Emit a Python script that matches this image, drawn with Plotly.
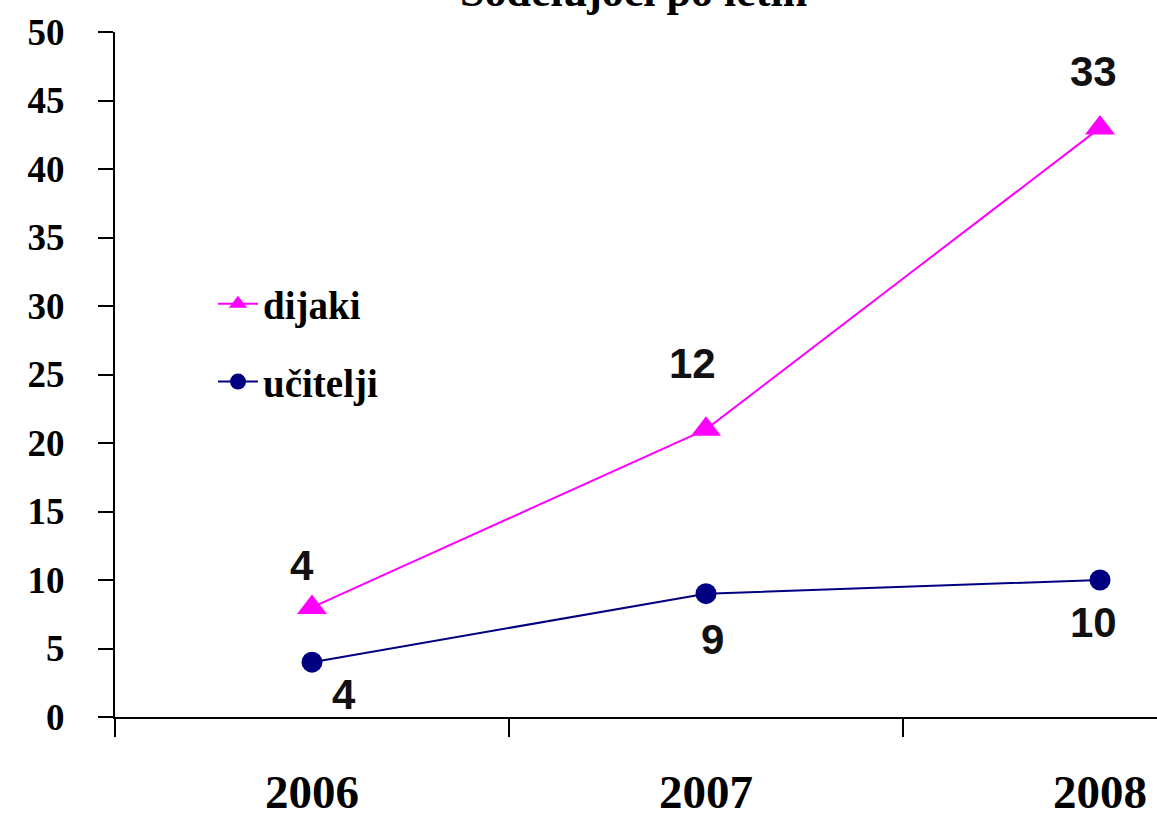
import plotly.graph_objects as go
import numpy as np

years = ["2006", "2007", "2008"]
ucitelji = [4, 9, 10]
dijaki = [4, 12, 33]
y_ticks = [0, 5, 10, 15, 20, 25, 30, 35, 40, 45, 50]
title_text = "Sodelujoči po letih"

# stacked line chart: dijaki stacked on top of učitelji
dijaki_stacked = list(np.array(ucitelji) + np.array(dijaki))

fig = go.Figure()
fig.add_trace(go.Scatter(
    x=years, y=dijaki_stacked, name="dijaki", mode="lines+markers",
    line=dict(color="#FF00FF", width=2),
    marker=dict(symbol="triangle-up", size=26, color="#FF00FF"),
    legendgroup="a", hoverinfo="skip"))
fig.add_trace(go.Scatter(
    x=years, y=ucitelji, name="učitelji", mode="lines+markers",
    line=dict(color="#000080", width=2),
    marker=dict(symbol="circle", size=21, color="#000080"),
    legendgroup="b", hoverinfo="skip"))

label_font = dict(family="Liberation Sans, Arial", size=42, color="#111111", weight="bold")
# data labels for dijaki (own values, above points)
dij_shifts = [(-10, 42), (-14, 66), (-7, 56)]
for i, (v, s) in enumerate(zip(dijaki, dijaki_stacked)):
    fig.add_annotation(x=i, y=s, xref="x", yref="y", text=str(v), showarrow=False,
                       font=label_font, xshift=dij_shifts[i][0], yshift=dij_shifts[i][1])
# data labels for učitelji (below points)
uc_shifts = [(32, -32), (6, -46), (-7, -42)]
for i, v in enumerate(ucitelji):
    fig.add_annotation(x=i, y=v, xref="x", yref="y", text=str(v), showarrow=False,
                       font=label_font, xshift=uc_shifts[i][0], yshift=uc_shifts[i][1])

# title, partially clipped at top
fig.add_annotation(xref="paper", yref="paper", x=(633 - 115) / (1157 - 115), y=1.059,
                   text=title_text, showarrow=False, xanchor="center", yanchor="middle",
                   font=dict(family="Liberation Serif, Times New Roman", size=44,
                             color="black", weight="bold"))

fig.update_layout(
    width=1157, height=818,
    margin=dict(l=115, r=0, t=32, b=101, autoexpand=False),
    paper_bgcolor="white", plot_bgcolor="white",
    showlegend=True,
    legend=dict(x=(213 - 115) / (1157 - 115), y=(717 - 272) / 685, xanchor="left", yanchor="top",
                font=dict(family="Liberation Serif, Times New Roman", size=39,
                          color="black", weight="bold"),
                bgcolor="rgba(0,0,0,0)", tracegroupgap=24, traceorder="grouped",
                itemwidth=40),
    xaxis=dict(type="category", range=[-0.5, 2 + 57 / 394], tickson="boundaries",
               ticks="outside", ticklen=18, tickwidth=2, tickcolor="black",
               showline=True, linecolor="black", linewidth=2, showgrid=False,
               zeroline=False, ticklabelstandoff=33, automargin=False,
               tickfont=dict(family="Liberation Serif, Times New Roman", size=47,
                             color="black", weight="bold")),
    yaxis=dict(range=[0, 50], tickvals=y_ticks, ticks="outside", ticklen=15,
               tickwidth=2, tickcolor="black", showline=True, linecolor="black",
               linewidth=2, showgrid=False, zeroline=False, ticklabelstandoff=26,
               automargin=False,
               tickfont=dict(family="Liberation Serif, Times New Roman", size=37,
                             color="black", weight="bold")),
)

fig.write_html("out.html", post_script="document.body.style.margin='0px';",
               config={"displayModeBar": False})
